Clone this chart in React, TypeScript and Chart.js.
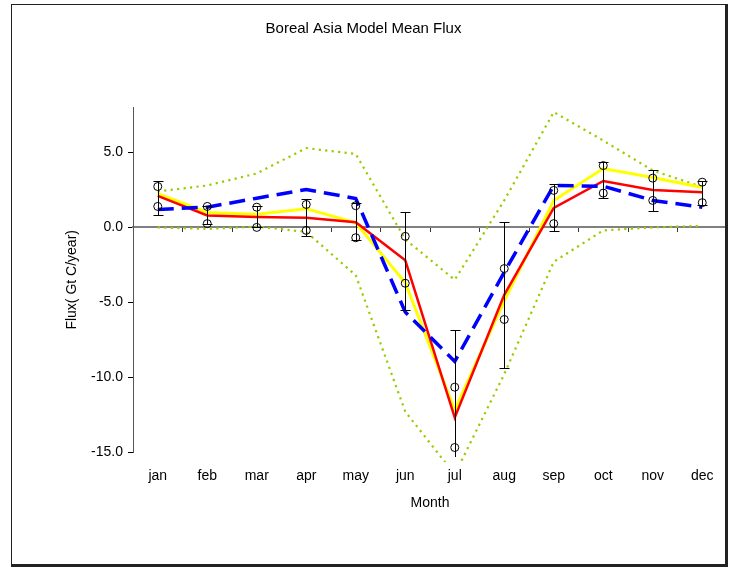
import React, { useEffect, useRef } from 'react';
import { Chart, registerables } from 'chart.js';

Chart.register(...registerables);

const months = ['jan', 'feb', 'mar', 'apr', 'may', 'jun', 'jul', 'aug', 'sep', 'oct', 'nov', 'dec'];
const meanRed = [2.1, 0.8, 0.7, 0.65, 0.35, -2.2, -12.7, -4.5, 1.3, 3.1, 2.5, 2.35];
const meanYellow = [2.25, 1.0, 0.87, 1.25, 0.3, -3.7, -12.2, -4.9, 1.8, 3.93, 3.33, 2.67];
const meanBlue = [1.2, 1.35, 1.95, 2.53, 1.93, -5.65, -8.95, -3.0, 2.8, 2.75, 1.8, 1.35];
const envUpper = [2.4, 2.8, 3.6, 5.3, 4.9, -0.8, -3.5, 1.8, 7.7, 5.8, 3.8, 2.7];
const envLower = [0.0, -0.1, 0.05, -0.3, -3.2, -12.3, -16.5, -9.8, -2.3, -0.2, 0.0, 0.1];
const errHigh = [3.13, 1.4, 1.4, 1.87, 1.6, 1.02, -6.85, 0.35, 2.87, 4.4, 3.8, 3.13];
const errLow = [0.85, 0.2, 0.0, -0.6, -0.87, -5.53, -18.6, -9.38, -0.27, 1.96, 1.07, 1.47];
const obsA = [2.73, 1.4, 1.35, 1.53, 1.45, -0.6, -10.67, -2.75, 2.47, 4.13, 3.29, 3.02];
const obsB = [1.4, 0.25, 0.0, -0.2, -0.69, -3.73, -14.7, -6.15, 0.25, 2.29, 1.8, 1.65];
const yTicks = [-15, -10, -5, 0, 5];

const FONT = 'Liberation Sans, Arial, sans-serif';

const framePlugin = {
  id: 'frame',
  beforeDraw(chart: any) {
    const { ctx, width, height } = chart;
    ctx.save();
    ctx.fillStyle = '#ffffff';
    ctx.fillRect(0, 0, width, height);
    ctx.restore();
  },
  afterDraw(chart: any) {
    const { ctx } = chart;
    ctx.save();
    ctx.strokeStyle = '#222';
    ctx.lineWidth = 1;
    ctx.strokeRect(11.5, 4.5, 714, 560);
    ctx.fillStyle = '#222';
    ctx.fillRect(725, 4, 3, 563);
    ctx.fillRect(11, 564, 717, 3);
    ctx.restore();
  },
};

const errorBarPlugin = {
  id: 'errorBars',
  afterDatasetsDraw(chart: any) {
    const { ctx, chartArea } = chart;
    const x = chart.scales.x;
    const y = chart.scales.y;
    ctx.save();
    ctx.beginPath();
    ctx.rect(chartArea.left - 10, chartArea.top - 10, chartArea.right - chartArea.left + 20, chartArea.bottom - chartArea.top + 15);
    ctx.clip();
    ctx.strokeStyle = '#000';
    ctx.lineWidth = 1;
    months.forEach((_m, i) => {
      const px = Math.round(x.getPixelForValue(i)) + 0.5;
      const yt = Math.round(y.getPixelForValue(errHigh[i])) + 0.5;
      const yb = Math.round(y.getPixelForValue(errLow[i])) + 0.5;
      ctx.beginPath();
      ctx.moveTo(px, yt);
      ctx.lineTo(px, yb);
      ctx.moveTo(px - 5, yt);
      ctx.lineTo(px + 5, yt);
      ctx.moveTo(px - 5, yb);
      ctx.lineTo(px + 5, yb);
      ctx.stroke();
    });
    ctx.restore();
  },
};

export default function App() {
  const ref = useRef<HTMLCanvasElement | null>(null);

  useEffect(() => {
    document.body.style.margin = '0';
    const canvas = ref.current;
    if (!canvas) return;
    Chart.defaults.font.family = FONT;
    const font = { family: FONT, size: 14 };
    const lineClip = { left: 0, top: 0, right: 0, bottom: 10 } as any;
    const chart = new Chart(canvas, {
      type: 'line',
      data: {
        labels: months,
        datasets: [
          {
            label: 'obsA', data: obsA, showLine: false, pointRadius: 4, pointBorderWidth: 1,
            pointBorderColor: '#000', pointBackgroundColor: 'rgba(0,0,0,0)', borderColor: '#000',
            xAxisID: 'x', yAxisID: 'y', order: 0,
          },
          {
            label: 'obsB', data: obsB, showLine: false, pointRadius: 4, pointBorderWidth: 1,
            pointBorderColor: '#000', pointBackgroundColor: 'rgba(0,0,0,0)', borderColor: '#000',
            xAxisID: 'x', yAxisID: 'y', order: 0,
          },
          {
            label: 'blue', data: meanBlue, borderColor: '#0000ff', borderWidth: 3.5, borderDash: [16, 8],
            pointRadius: 0, fill: false, tension: 0, xAxisID: 'x', yAxisID: 'y', order: 1,
          },
          {
            label: 'red', data: meanRed, borderColor: '#ff0000', borderWidth: 2.5,
            pointRadius: 0, fill: false, tension: 0, xAxisID: 'x', yAxisID: 'y', order: 2,
          },
          {
            label: 'yellow', data: meanYellow, borderColor: '#ffff00', borderWidth: 3,
            pointRadius: 0, fill: false, tension: 0, xAxisID: 'x', yAxisID: 'y', order: 3,
          },
          {
            label: 'upper', data: envUpper, borderColor: '#99cc00', borderWidth: 2.2, borderDash: [2.2, 4.3],
            pointRadius: 0, fill: false, tension: 0, xAxisID: 'x', yAxisID: 'y', order: 4, clip: lineClip,
          },
          {
            label: 'lower', data: envLower, borderColor: '#99cc00', borderWidth: 2.2, borderDash: [2.2, 4.3],
            pointRadius: 0, fill: false, tension: 0, xAxisID: 'x', yAxisID: 'y', order: 5, clip: lineClip,
          },
        ],
      },
      options: {
        responsive: false,
        animation: false,
        layout: { padding: { left: 0, right: 9, top: 0, bottom: 0 } },
        plugins: {
          legend: { display: false },
          tooltip: { enabled: false },
          title: {
            display: true,
            text: 'Boreal Asia Model Mean Flux',
            color: '#000',
            font: { family: FONT, size: 15, weight: 'normal' },
            padding: { top: 20, bottom: 69.6 },
          },
        },
        scales: {
          x: {
            type: 'category',
            position: 'bottom',
            offset: true,
            grid: { display: false, drawTicks: false, drawOnChartArea: false },
            border: { display: false },
            ticks: { color: '#000', font, padding: 16, maxRotation: 0, autoSkip: false },
            title: { display: true, text: 'Month', color: '#000', font, padding: { top: 0, bottom: 55 } },
            afterFit(scale: any) { scale.height = 115; },
          },
          x2: {
            type: 'category',
            labels: months,
            position: { y: 0 } as any,
            offset: true,
            grid: { display: true, offset: true, drawOnChartArea: false, drawTicks: true, tickLength: 4, color: '#333' },
            border: { display: true, color: '#808080', width: 2 },
            ticks: { display: false },
          },
          y: {
            type: 'linear',
            position: 'left',
            min: -15,
            max: 8,
            afterBuildTicks(scale: any) { scale.ticks = yTicks.map((v) => ({ value: v })); },
            grid: { drawOnChartArea: false, drawTicks: true, tickLength: 5, color: '#000' },
            border: { display: true, color: '#555', width: 1 },
            ticks: { color: '#000', font, padding: 5, callback: (v: any) => Number(v).toFixed(1) },
            title: { display: true, text: 'Flux( Gt C/year)', color: '#000', font, padding: { top: 63.6 } },
            afterFit(scale: any) { scale.width = 133; },
          },
        },
      } as any,
      plugins: [framePlugin, errorBarPlugin],
    });
    return () => chart.destroy();
  }, []);

  return <canvas ref={ref} width={736} height={567} style={{ display: 'block' }} />;
}
